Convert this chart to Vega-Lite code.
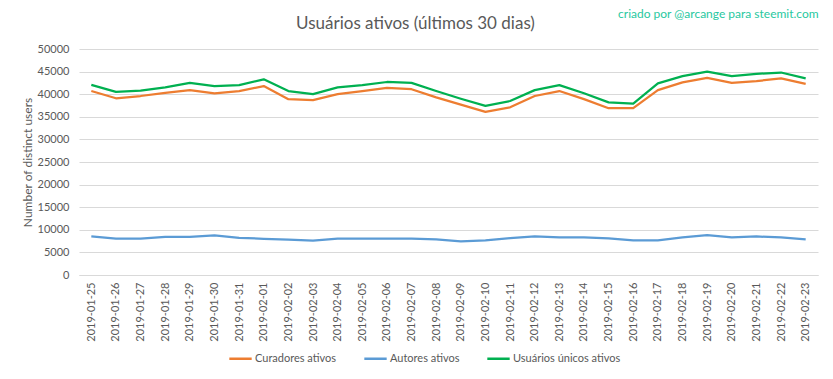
{
  "$schema": "https://vega.github.io/schema/vega-lite/v6.json",
  "width": 739,
  "height": 226,
  "autosize": {"type": "none"},
  "padding": {"left": 79, "top": 49, "right": 15, "bottom": 104},
  "background": "white",
  "title": {
    "text": "Usuários ativos (últimos 30 dias)",
    "font": "Lato",
    "fontSize": 17,
    "fontWeight": "normal",
    "color": "#595959",
    "anchor": "middle",
    "dx": -33,
    "offset": -25
  },
  "config": {
    "view": {"stroke": null},
    "font": "Lato",
    "axisY": {"tickCount": 10, "labelOverlap": false}
  },
  "layer": [
    {
      "data": {
        "values": [
          {"date": "2019-01-25", "Curadores ativos": 40700, "Autores ativos": 8520, "Usuários únicos ativos": 42050},
          {"date": "2019-01-26", "Curadores ativos": 39100, "Autores ativos": 8050, "Usuários únicos ativos": 40500},
          {"date": "2019-01-27", "Curadores ativos": 39600, "Autores ativos": 8050, "Usuários únicos ativos": 40800},
          {"date": "2019-01-28", "Curadores ativos": 40300, "Autores ativos": 8460, "Usuários únicos ativos": 41500},
          {"date": "2019-01-29", "Curadores ativos": 40900, "Autores ativos": 8450, "Usuários únicos ativos": 42500},
          {"date": "2019-01-30", "Curadores ativos": 40200, "Autores ativos": 8750, "Usuários únicos ativos": 41800},
          {"date": "2019-01-31", "Curadores ativos": 40700, "Autores ativos": 8240, "Usuários únicos ativos": 42000},
          {"date": "2019-02-01", "Curadores ativos": 41800, "Autores ativos": 8000, "Usuários únicos ativos": 43300},
          {"date": "2019-02-02", "Curadores ativos": 38900, "Autores ativos": 7800, "Usuários únicos ativos": 40700},
          {"date": "2019-02-03", "Curadores ativos": 38700, "Autores ativos": 7580, "Usuários únicos ativos": 40000},
          {"date": "2019-02-04", "Curadores ativos": 40000, "Autores ativos": 8050, "Usuários únicos ativos": 41500},
          {"date": "2019-02-05", "Curadores ativos": 40700, "Autores ativos": 8050, "Usuários únicos ativos": 42000},
          {"date": "2019-02-06", "Curadores ativos": 41400, "Autores ativos": 8050, "Usuários únicos ativos": 42700},
          {"date": "2019-02-07", "Curadores ativos": 41100, "Autores ativos": 8050, "Usuários únicos ativos": 42500},
          {"date": "2019-02-08", "Curadores ativos": 39300, "Autores ativos": 7870, "Usuários únicos ativos": 40700},
          {"date": "2019-02-09", "Curadores ativos": 37700, "Autores ativos": 7430, "Usuários únicos ativos": 39000},
          {"date": "2019-02-10", "Curadores ativos": 36100, "Autores ativos": 7650, "Usuários únicos ativos": 37400},
          {"date": "2019-02-11", "Curadores ativos": 37100, "Autores ativos": 8170, "Usuários únicos ativos": 38500},
          {"date": "2019-02-12", "Curadores ativos": 39600, "Autores ativos": 8530, "Usuários únicos ativos": 40900},
          {"date": "2019-02-13", "Curadores ativos": 40700, "Autores ativos": 8300, "Usuários únicos ativos": 42000},
          {"date": "2019-02-14", "Curadores ativos": 38900, "Autores ativos": 8300, "Usuários únicos ativos": 40200},
          {"date": "2019-02-15", "Curadores ativos": 36900, "Autores ativos": 8090, "Usuários únicos ativos": 38200},
          {"date": "2019-02-16", "Curadores ativos": 36900, "Autores ativos": 7650, "Usuários únicos ativos": 37900},
          {"date": "2019-02-17", "Curadores ativos": 40900, "Autores ativos": 7650, "Usuários únicos ativos": 42400},
          {"date": "2019-02-18", "Curadores ativos": 42600, "Autores ativos": 8300, "Usuários únicos ativos": 44000},
          {"date": "2019-02-19", "Curadores ativos": 43600, "Autores ativos": 8830, "Usuários únicos ativos": 45000},
          {"date": "2019-02-20", "Curadores ativos": 42500, "Autores ativos": 8300, "Usuários únicos ativos": 44000},
          {"date": "2019-02-21", "Curadores ativos": 42900, "Autores ativos": 8530, "Usuários únicos ativos": 44500},
          {"date": "2019-02-22", "Curadores ativos": 43500, "Autores ativos": 8300, "Usuários únicos ativos": 44800},
          {"date": "2019-02-23", "Curadores ativos": 42300, "Autores ativos": 7870, "Usuários únicos ativos": 43500}
        ]
      },
      "transform": [
        {"fold": ["Curadores ativos", "Autores ativos", "Usuários únicos ativos"], "as": ["series", "value"]}
      ],
      "mark": {"type": "line", "strokeWidth": 2.25, "strokeJoin": "round"},
      "encoding": {
        "x": {
          "field": "date",
          "type": "ordinal",
          "sort": null,
          "scale": {"type": "point", "padding": 0.5},
          "axis": {
            "title": null,
            "labelAngle": -90,
            "labelFont": "Lato",
            "labelFontSize": 11,
            "labelColor": "#595959",
            "labelPadding": 7,
            "ticks": false,
            "domain": true,
            "domainColor": "#d9d9d9",
            "grid": false
          }
        },
        "y": {
          "field": "value",
          "type": "quantitative",
          "scale": {"domain": [0, 50000], "nice": false},
          "axis": {
            "title": "Number of distinct users",
            "titleFont": "Lato",
            "titleFontSize": 12,
            "titleFontWeight": "normal",
            "titleColor": "#595959",
            "titlePadding": 3,
            "tickCount": 10,
            "format": "d",
            "labelOverlap": false,
            "labelFont": "Lato",
            "labelFontSize": 11,
            "labelColor": "#595959",
            "labelPadding": 10,
            "ticks": false,
            "domain": false,
            "grid": true,
            "gridColor": "#d9d9d9",
            "gridWidth": 1
          }
        },
        "color": {
          "field": "series",
          "type": "nominal",
          "scale": {
            "domain": ["Curadores ativos", "Autores ativos", "Usuários únicos ativos"],
            "range": ["#ED7D31", "#5B9BD5", "#00B050"]
          },
          "legend": {
            "title": null,
            "orient": "none",
            "direction": "horizontal",
            "legendX": 149,
            "legendY": 297,
            "symbolType": "stroke",
            "symbolSize": 500,
            "symbolStrokeWidth": 2.5,
            "labelFont": "Lato",
            "labelFontSize": 11,
            "labelColor": "#595959",
            "labelOffset": 2,
            "columnPadding": 22
          }
        }
      }
    },
    {
      "data": {"values": [{"t": "criado por @arcange para steemit.com"}]},
      "mark": {
        "type": "text",
        "align": "right",
        "baseline": "middle",
        "font": "Lato",
        "fontSize": 12,
        "color": "#28C8A0",
        "dx": 13,
        "dy": -35
      },
      "encoding": {
        "x": {"datum": "2019-02-23"},
        "y": {"datum": 50000},
        "text": {"field": "t"}
      }
    }
  ]
}
